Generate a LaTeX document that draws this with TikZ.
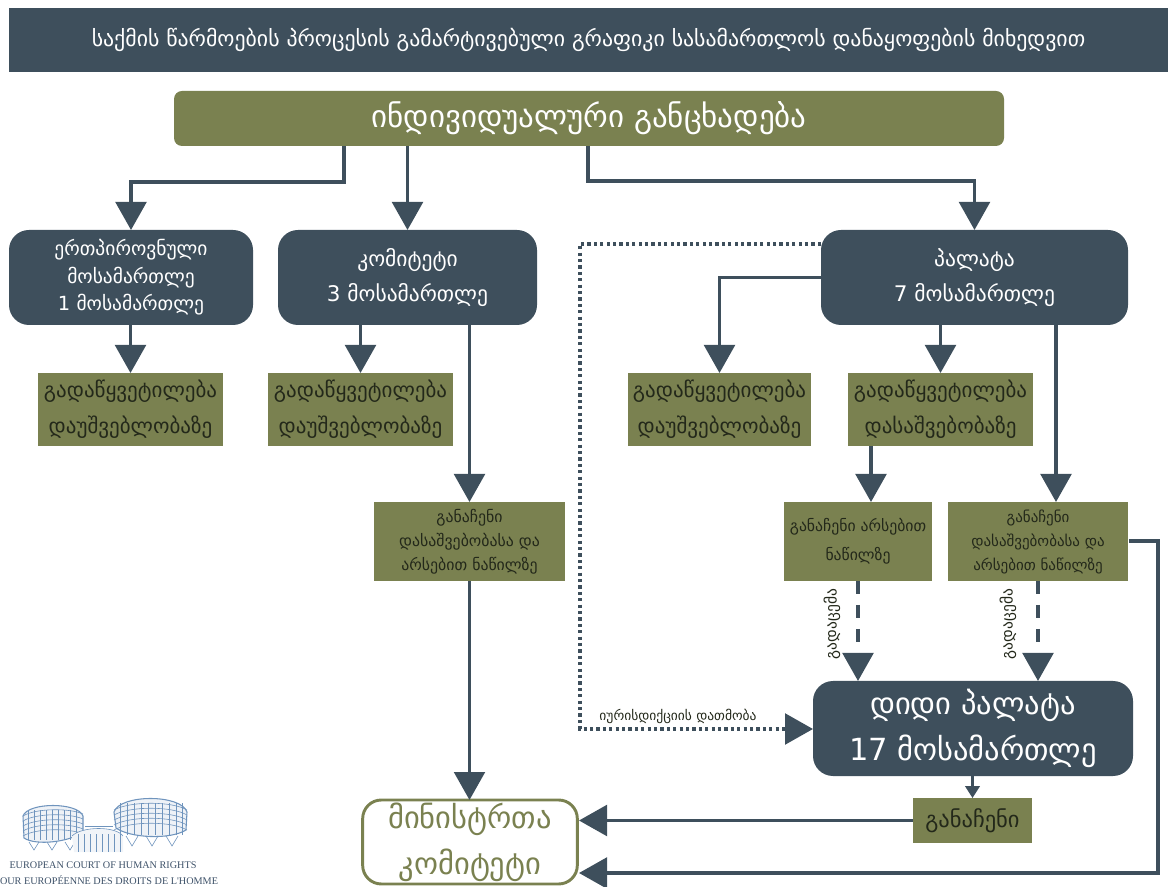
\documentclass[tikz,border=0pt]{standalone}
\usepackage{fontspec}
\setmainfont{DejaVu Sans}
\newfontfamily\logofont{Liberation Serif}
\usetikzlibrary{arrows.meta}
\definecolor{slateb}{HTML}{3E4F5C}
\definecolor{olivb}{HTML}{7A8150}
\definecolor{inkb}{HTML}{23281A}
\definecolor{logob}{HTML}{6F94BD}
\newcommand\fs[2]{\fontsize{\dimexpr#1pt*3/4\relax}{\dimexpr#2pt*3/4\relax}\selectfont}
\tikzset{
  darkbox/.style={fill=slateb,rounded corners=15pt,text=white,align=center,inner sep=0pt,outer sep=0pt},
  greenbox/.style={fill=olivb,text=inkb,align=center,inner sep=0pt,outer sep=0pt},
  conn/.style={draw=slateb,line width=2.5pt,-{Triangle[length=21pt,width=23pt]}},
  connsmall/.style={draw=slateb,line width=1.6pt,-{Triangle[length=9pt,width=11pt]}},
  conndash/.style={conn,dash pattern=on 10pt off 8pt},
  conndot/.style={conn,line width=2.6pt,dash pattern=on 2.4pt off 2.4pt},
  lbl/.style={inkb,inner sep=0pt,outer sep=0pt},
  logoline/.style={draw=logob,line width=0.45pt},
}
\begin{document}
\begin{tikzpicture}[x=0.75pt,y=-0.75pt]
\useasboundingbox (0,0) rectangle (1168,887);
\clip (0,0) rectangle (1168,887);
% title
\node[fill=slateb,text=white,inner sep=0pt,outer sep=0pt,minimum width=870pt,minimum height=48pt,font=\fs{21.8}{26}] (title) at (588.5,40) {საქმის წარმოების პროცესის გამარტივებული გრაფიკი სასამართლოს დანაყოფების მიხედვით};
% top application
\node[fill=olivb,rounded corners=6pt,text=white,inner sep=0pt,outer sep=0pt,minimum width=622.5pt,minimum height=41.25pt,font=\fs{31}{36}] (app) at (589,118.5) {ინდივიდუალური განცხადება};
% judges
\node[darkbox,minimum width=183pt,minimum height=71.25pt,font=\fs{19.5}{27.5}] (single) at (131,277.5) {ერთპიროვნული\\მოსამართლე\\1 მოსამართლე};
\node[darkbox,minimum width=194.25pt,minimum height=71.25pt,font=\fs{21.5}{35}] (comm) at (407.5,277.5) {კომიტეტი\\3 მოსამართლე};
\node[darkbox,minimum width=230.25pt,minimum height=71.25pt,font=\fs{21.5}{35}] (chamber) at (974.5,277.5) {პალატა\\7 მოსამართლე};
% decisions
\node[greenbox,minimum width=138.75pt,minimum height=54.75pt,font=\fs{21}{36}] (g1) at (130.5,409.5) {გადაწყვეტილება\\დაუშვებლობაზე};
\node[greenbox,minimum width=138.75pt,minimum height=54.75pt,font=\fs{21}{36}] (g2) at (360.5,409.5) {გადაწყვეტილება\\დაუშვებლობაზე};
\node[greenbox,minimum width=137.25pt,minimum height=54.75pt,font=\fs{21}{36}] (g3) at (719.5,409.5) {გადაწყვეტილება\\დაუშვებლობაზე};
\node[greenbox,minimum width=138.75pt,minimum height=54.75pt,font=\fs{21}{36}] (g4) at (940.5,409.5) {გადაწყვეტილება\\დასაშვებობაზე};
% verdicts
\node[greenbox,minimum width=143.25pt,minimum height=59.25pt,font=\fs{15.8}{24}] (v1) at (469.5,541.5) {განაჩენი\\დასაშვებობასა და\\არსებით ნაწილზე};
\node[greenbox,minimum width=111pt,minimum height=59.25pt,font=\fs{15.7}{29}] (v2) at (858,541.5) {განაჩენი არსებით\\ნაწილზე};
\node[greenbox,minimum width=135pt,minimum height=59.25pt,font=\fs{15}{24}] (v3) at (1038,541.5) {განაჩენი\\დასაშვებობასა და\\არსებით ნაწილზე};
% grand chamber
\node[darkbox,minimum width=240pt,minimum height=71.25pt,font=\fs{30.5}{46}] (gc) at (973,728.5) {დიდი პალატა\\17 მოსამართლე};
\node[greenbox,minimum width=89.25pt,minimum height=33.75pt,font=\fs{22.5}{26}] (verdict) at (972.5,820.5) {განაჩენი};
\node[draw=olivb,line width=2.2pt,fill=white,rounded corners=14pt,text=olivb,align=center,inner sep=0pt,outer sep=0pt,minimum width=161pt,minimum height=63pt,font=\fs{30.5}{46}] (cm) at (470,842) {მინისტრთა\\კომიტეტი};
% labels
\node[lbl,rotate=90,font=\fs{15.5}{18}] (handa) at (832,624) {გადაცემა};
\node[lbl,rotate=90,font=\fs{15.5}{18}] (handb) at (1008,624) {გადაცემა};
\node[lbl,font=\fs{13.5}{16}] (juris) at (678,716) {იურისდიქციის დათმობა};
% free-end coordinates
\coordinate (xa) at (344,146);
\coordinate (xb) at (588,146);
\coordinate (xc) at (1056,325);
\coordinate (xd) at (871,446);
\coordinate (dotstart) at (821,244);
\coordinate (dotcorner) at (580,244);
\coordinate (gcin) at (813,729);
\coordinate (retA) at (1129,541);
\coordinate (retB) at (1158,541);
\coordinate (cmin) at (579,873);
% connectors
\draw[conn] (xa) -- ++(0,36) -| (single.north);
\draw[conn] (app.south -| comm.north) -- (comm.north);
\draw[conn] (xb) -- ++(0,35) -| (chamber.north);
\draw[conn] (single.south -| g1.north) -- (g1.north);
\draw[conn] (comm.south -| g2.north) -- (g2.north);
\draw[conn] (comm.south -| v1.north) -- (v1.north);
\draw[conn] (v1.south) -- (v1.south |- cm.north);
\draw[conn] (chamber.west) -| (g3.north);
\draw[conn] (chamber.south -| g4.north) -- (g4.north);
\draw[conn] (xc) -- (xc |- v3.north);
\draw[conn] (xd) -- (xd |- v2.north);
\draw[conndash] (v2.south) -- (v2.south |- gc.north);
\draw[conndash] (v3.south) -- (v3.south |- gc.north);
\draw[conndot] (dotstart) -- (dotcorner) -- (dotcorner |- gcin) -- (gcin);
\draw[connsmall] (gc.south -| verdict.north) -- (verdict.north);
\draw[conn] (verdict.west) -- (verdict.west -| cmin);
\draw[conn] (retA) -- (retB) -- (retB |- cmin) -- (cmin);
% logo: the court building, drawn directly
% left drum
\fill[logob!12] (23,816) .. controls (28,802) and (78,802) .. (83,816) -- (83,832) .. controls (70,842) and (36,846) .. (24,838) -- cycle;
\foreach \d in {0,5,10,15,20} {
  \draw[logoline] (23,816+\d) .. controls (36,808+\d) and (70,808+\d) .. (83,814+\d);
}
\foreach \i in {28,34,40,46,52,58,64,70,76} {
  \draw[logoline] (\i,810) -- (\i,840);
}
\draw[logoline,line width=0.8pt] (23,816) .. controls (28,802) and (78,802) .. (83,816) -- (83,832) .. controls (70,842) and (36,846) .. (24,838) -- cycle;
% right drum
\fill[logob!12] (114,812) .. controls (120,794) and (181,794) .. (187,812) -- (186,830) .. controls (170,840) and (130,838) .. (116,828) -- cycle;
\foreach \d in {0,5,10,15,20} {
  \draw[logoline] (114,810+\d) .. controls (130,801+\d) and (172,801+\d) .. (187,810+\d);
}
\foreach \i in {120,127,134,141,148,155,162,169,176,182} {
  \draw[logoline] (\i,803) -- (\i,835);
}
\draw[logoline,line width=0.8pt] (114,812) .. controls (120,794) and (181,794) .. (187,812) -- (186,830) .. controls (170,840) and (130,838) .. (116,828) -- cycle;
% V supports
\foreach \i in {34,52,70} {
  \draw[logoline] (\i-5,842) -- (\i,850) -- (\i+5,842);
}
\foreach \i in {132,152,172} {
  \draw[logoline] (\i-6,836) -- (\i,846) -- (\i+6,836);
}
% central block
\fill[logob!10] (72,836) .. controls (82,826) and (116,826) .. (123,836) -- (123,852) -- (74,852) -- cycle;
\foreach \i in {78,84,90,96,102,108,114,120} {
  \draw[logoline] (\i,834) -- (\i,852);
}
\draw[logoline] (72,836) .. controls (82,826) and (116,826) .. (123,836);
\draw[logoline] (85,826) -- (113,826);
\node[logob!55!black,inner sep=0pt,outer sep=0pt,font=\logofont\fs{10.2}{12}] (logoa) at (103,865) {EUROPEAN COURT OF HUMAN RIGHTS};
\node[logob!55!black,inner sep=0pt,outer sep=0pt,anchor=west,font=\logofont\fs{10.2}{12}] (logob) at (0,880) {OUR EUROPÉENNE DES DROITS DE L'HOMME};
\end{tikzpicture}
\end{document}
